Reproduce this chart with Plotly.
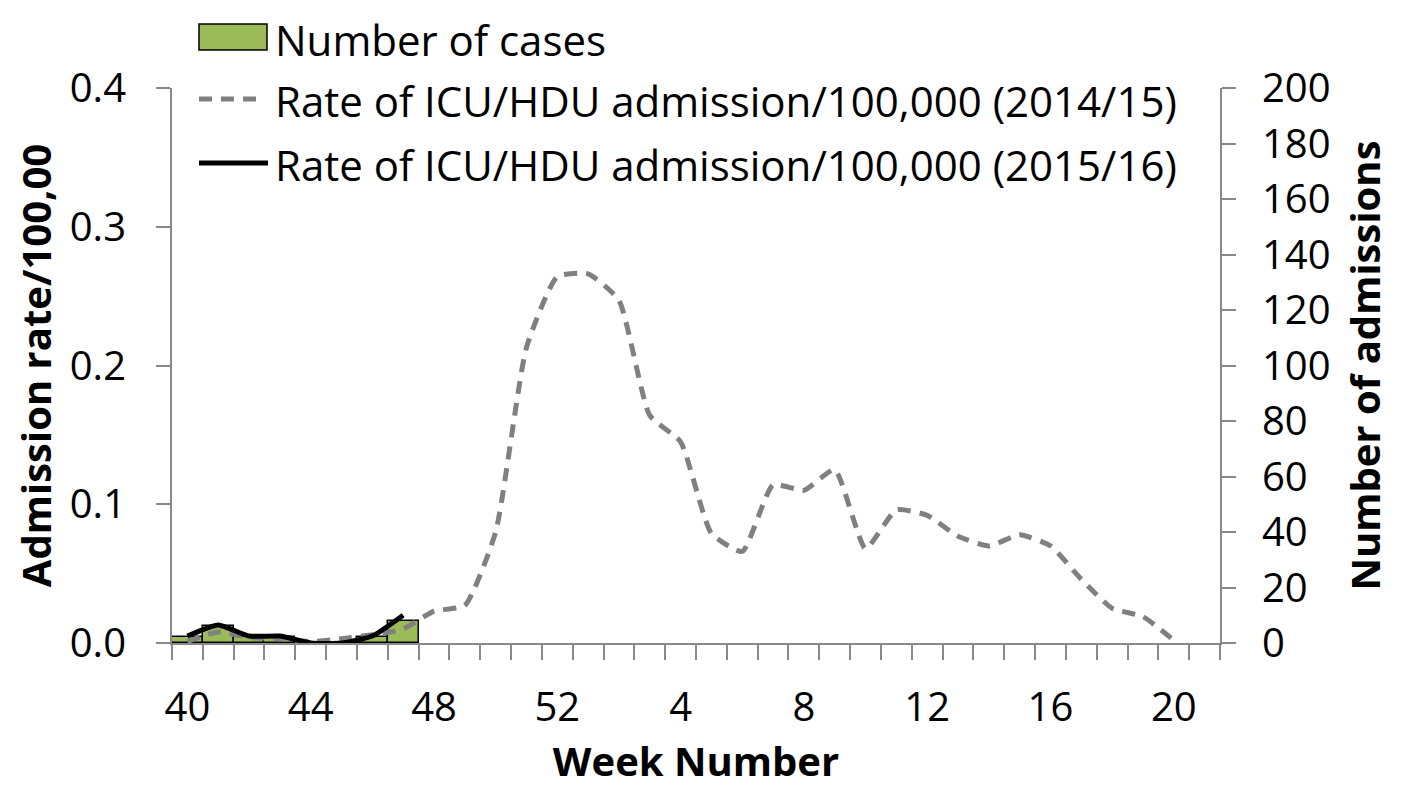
import plotly.graph_objects as go

# ---- data ----
weeks = [40, 41, 42, 43, 44, 45, 46, 47, 48, 49, 50, 51, 52,
         1, 2, 3, 4, 5, 6, 7, 8, 9, 10, 11, 12, 13, 14, 15, 16, 17, 18, 19, 20, 21]
tick_weeks = [40, 44, 48, 52, 4, 8, 12, 16, 20]

cases_2015 = [2, 6, 2, 2, 0, 0, 2, 8]  # number of cases, weeks 40-47
rate_2014 = [0.001, 0.008, 0.004, 0.003, 0.001, 0.003, 0.006, 0.010, 0.023, 0.027,
             0.080, 0.213, 0.264, 0.266, 0.247, 0.164, 0.145, 0.079, 0.066, 0.114,
             0.110, 0.125, 0.068, 0.096, 0.092, 0.077, 0.070, 0.078, 0.070, 0.046,
             0.025, 0.019, 0.002, None]
rate_2015 = [0.005, 0.013, 0.005, 0.005, 0.0, 0.0, 0.005, 0.020]

idx = list(range(len(weeks)))
tick_idx = [weeks.index(w) for w in tick_weeks]

FONT = "Open Sans"
AX = "#898989"

# The page body has an 8px margin, so the figure is drawn 8px in from the
# window's top-left corner.  Geometry below is in window pixels.
OFF = 8
W, H = 1406 - OFF, 788 - OFF
PLOT_L, PLOT_R, PLOT_T, PLOT_B = 172, 1220, 88, 643  # window pixels
L = PLOT_L - OFF
T = PLOT_T - OFF
R = W - (PLOT_R - OFF)
B = H - (PLOT_B - OFF)
PW, PH = PLOT_R - PLOT_L, PLOT_B - PLOT_T


def px(x):
    return (x - PLOT_L) / PW


def py(y):
    return (PLOT_B - y) / PH


fig = go.Figure()

fig.add_trace(go.Bar(
    x=idx[:len(cases_2015)], y=cases_2015, width=1.0, yaxis="y",
    marker=dict(color="#9BBB59", line=dict(color="black", width=1.5)),
    name="Number of cases", showlegend=False,
))
fig.add_trace(go.Scatter(
    x=idx, y=rate_2014, yaxis="y2", mode="lines",
    line=dict(color="#808080", width=5, dash="13px,9px", shape="spline", smoothing=0.5),
    name="Rate of ICU/HDU admission/100,000 (2014/15)", showlegend=False,
))
fig.add_trace(go.Scatter(
    x=idx[:len(rate_2015)], y=rate_2015, yaxis="y2", mode="lines",
    line=dict(color="black", width=5, shape="spline", smoothing=0.5),
    name="Rate of ICU/HDU admission/100,000 (2015/16)", showlegend=False,
))

tickfont = dict(family=FONT, size=40, color="black")
titlefont = dict(family=FONT, size=40, color="black", weight="bold")

fig.update_layout(
    width=W, height=H,
    margin=dict(l=L, r=R, t=T, b=B, autoexpand=False),
    paper_bgcolor="white", plot_bgcolor="white",
    showlegend=False,
    bargap=0,
    xaxis=dict(
        range=[-0.5, len(weeks) - 0.5],
        tickmode="array", tickvals=tick_idx, ticktext=[str(w) for w in tick_weeks],
        ticks="", tickfont=tickfont, ticklabelstandoff=28,
        showline=True, linecolor=AX, linewidth=2, showgrid=False, zeroline=False,
        minor=dict(tickmode="array", tickvals=[i - 0.5 for i in range(len(weeks) + 1)],
                   ticks="outside", ticklen=15, tickwidth=1.5, tickcolor=AX, showgrid=False),
        title=dict(text="Week Number", font=titlefont, standoff=26),
    ),
    yaxis=dict(
        side="right", range=[0, 200], dtick=20, tickfont=tickfont,
        ticks="outside", ticklen=14, tickwidth=1.5, tickcolor=AX, ticklabelstandoff=18,
        showline=True, linecolor=AX, linewidth=2, showgrid=False, zeroline=False,
        title=dict(text="Number of admissions", font=titlefont, standoff=22),
    ),
    yaxis2=dict(
        side="left", overlaying="y", range=[0, 0.4], dtick=0.1, tickformat=".1f",
        tickfont=tickfont, ticks="outside", ticklen=14, tickwidth=1.5, tickcolor=AX,
        ticklabelstandoff=22,
        showline=True, linecolor=AX, linewidth=2, showgrid=False, zeroline=False,
        title=dict(text="Admission rate/100,00", font=titlefont, standoff=12),
    ),
)

# ---- hand-made legend (top-left, like the original) ----
shapes = [
    dict(type="rect", xref="paper", yref="paper",
         x0=px(199), x1=px(267), y0=py(50), y1=py(24),
         fillcolor="#9BBB59", line=dict(color="black", width=1.5)),
    dict(type="line", xref="paper", yref="paper",
         x0=px(199), x1=px(262), y0=py(99), y1=py(99),
         line=dict(color="#808080", width=5, dash="13px,9px")),
    dict(type="line", xref="paper", yref="paper",
         x0=px(199), x1=px(268), y0=py(163), y1=py(163),
         line=dict(color="black", width=5)),
]
labels = [
    ("Number of cases", 39),
    ("Rate of ICU/HDU admission/100,000 (2014/15)", 101),
    ("Rate of ICU/HDU admission/100,000 (2015/16)", 164),
]
annotations = [
    dict(text=t, xref="paper", yref="paper", x=px(273), y=py(yc),
         xanchor="left", yanchor="middle", showarrow=False,
         font=dict(family=FONT, size=42, color="black"))
    for t, yc in labels
]
fig.update_layout(shapes=shapes, annotations=annotations)

fig.write_html("out.html")
